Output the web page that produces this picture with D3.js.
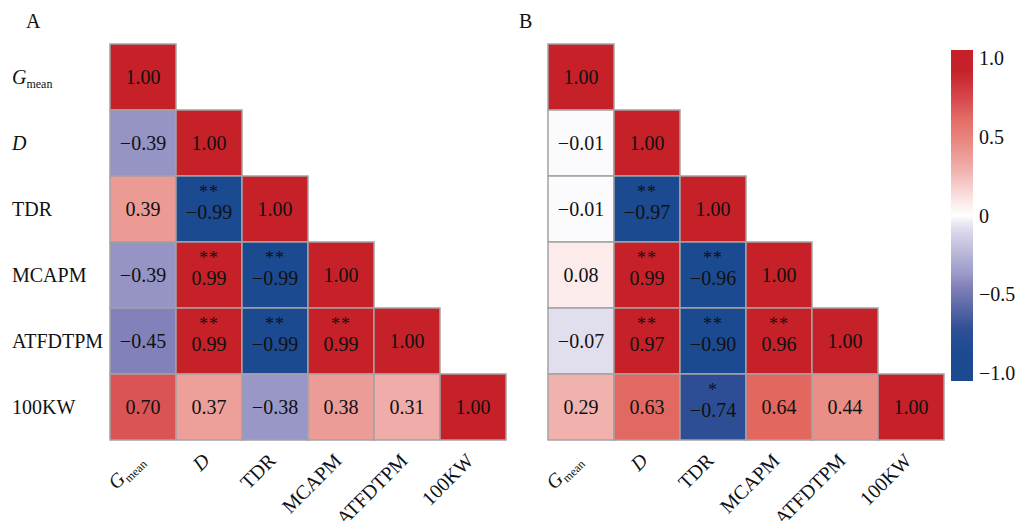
<!DOCTYPE html>
<html>
<head>
<meta charset="utf-8">
<script src="https://cdn.jsdelivr.net/npm/d3@7"></script>
<style>
  body { margin: 0; background: #fff; }
  svg text { font-family: "Liberation Serif", "Times New Roman", serif; fill: #111; }
</style>
</head>
<body>
<div id="chart"></div>
<script>
// variable names (row/column order)
const variables = ['Gmean', 'D', 'TDR', 'MCAPM', 'ATFDTPM', '100KW'];

// lower triangle correlations, panel A
const valuesA = [
  [1.00],
  [-0.39, 1.00],
  [0.39, -0.99, 1.00],
  [-0.39, 0.99, -0.99, 1.00],
  [-0.45, 0.99, -0.99, 0.99, 1.00],
  [0.70, 0.37, -0.38, 0.38, 0.31, 1.00]
];
const starsA = [
  [''],
  ['', ''],
  ['', '**', ''],
  ['', '**', '**', ''],
  ['', '**', '**', '**', ''],
  ['', '', '', '', '', '']
];

// panel B
const valuesB = [
  [1.00],
  [-0.01, 1.00],
  [-0.01, -0.97, 1.00],
  [0.08, 0.99, -0.96, 1.00],
  [-0.07, 0.97, -0.90, 0.96, 1.00],
  [0.29, 0.63, -0.74, 0.64, 0.44, 1.00]
];
const starsB = [
  [''],
  ['', ''],
  ['', '**', ''],
  ['', '**', '**', ''],
  ['', '**', '**', '**', ''],
  ['', '', '*', '', '', '']
];

const legendTicks = [1.0, 0.5, 0, -0.5, -1.0];

const width = 1019, height = 521;
const svg = d3.select('#chart').append('svg')
  .attr('width', width)
  .attr('height', height);

// colour scale, blue - white - red
const color = d3.scaleLinear()
  .domain([-1, -0.88, -0.72, -0.45, -0.38, -0.07, 0, 0.08, 0.3, 0.45, 0.64, 0.72, 0.92, 1])
  .range(['#1b4a90', '#1b4a91', '#2f4f95', '#8281b9', '#9897c7', '#e1dfee', '#ffffff',
          '#fcebeb', '#f0aeaa', '#e98d86', '#e1675f', '#d84d53', '#c62128', '#c62128'])
  .clamp(true);

const fmt = v => (v < 0 ? '\u2212' : '') + Math.abs(v).toFixed(2);
const fs = 20;

function labelText(sel, name, size) {
  if (name === 'Gmean') {
    sel.append('tspan').attr('font-style', 'italic').text('G');
    sel.append('tspan').attr('font-size', size * 0.6).attr('dy', 4).text('mean');
  } else if (name === 'D') {
    sel.attr('font-style', 'italic').text('D');
  } else {
    sel.text(name);
  }
}

function drawPanel(x0, values, stars, letter, letterX, showRowLabels) {
  const x = d3.scaleBand().domain(variables).range([x0, x0 + 396]);
  const y = d3.scaleBand().domain(variables).range([44, 440]);

  const cells = [];
  values.forEach((row, i) => row.forEach((v, j) => {
    cells.push({row: variables[i], col: variables[j], v: v, s: stars[i][j]});
  }));

  const g = svg.append('g');

  g.selectAll('rect.cell')
    .data(cells)
    .enter().append('rect')
    .attr('class', 'cell')
    .attr('x', d => x(d.col))
    .attr('y', d => y(d.row))
    .attr('width', x.bandwidth())
    .attr('height', y.bandwidth())
    .attr('fill', d => color(d.v))
    .attr('stroke', '#a3a3a3')
    .attr('stroke-width', 1.5);

  g.selectAll('text.val')
    .data(cells)
    .enter().append('text')
    .attr('class', 'val')
    .attr('x', d => x(d.col) + x.bandwidth() / 2)
    .attr('y', d => y(d.row) + y.bandwidth() / 2 + (d.s ? 3 : 0))
    .attr('dy', '0.35em')
    .attr('text-anchor', 'middle')
    .attr('font-size', fs)
    .text(d => fmt(d.v));

  g.selectAll('text.star')
    .data(cells.filter(d => d.s))
    .enter().append('text')
    .attr('class', 'star')
    .attr('x', d => x(d.col) + x.bandwidth() / 2)
    .attr('y', d => y(d.row) + y.bandwidth() / 2 - 11)
    .attr('text-anchor', 'middle')
    .attr('font-size', 18)
    .attr('letter-spacing', 1)
    .text(d => d.s);

  if (showRowLabels) {
    variables.forEach(name => {
      const t = g.append('text')
        .attr('x', 12)
        .attr('y', y(name) + y.bandwidth() / 2)
        .attr('dy', '0.35em')
        .attr('font-size', fs);
      labelText(t, name, fs);
    });
  }

  // rotated column labels
  variables.forEach(name => {
    const cx = x(name) + x.bandwidth() / 2 - 8;
    const t = g.append('text')
      .attr('transform', `translate(${cx},${452}) rotate(-45)`)
      .attr('text-anchor', 'end')
      .attr('dy', '0.7em')
      .attr('font-size', fs);
    labelText(t, name, fs);
  });

  svg.append('text')
    .attr('x', letterX)
    .attr('y', 28)
    .attr('font-size', 20)
    .text(letter);
}

drawPanel(110, valuesA, starsA, 'A', 26, true);
drawPanel(548, valuesB, starsB, 'B', 519, false);

// colour bar legend
const barX = 951, barW = 22, barTop = 50, barBottom = 381;
const ly = d3.scaleLinear().domain([-1, 1]).range([373, 58]);

const defs = svg.append('defs');
const grad = defs.append('linearGradient')
  .attr('id', 'cbar')
  .attr('x1', 0).attr('y1', 1).attr('x2', 0).attr('y2', 0);
d3.range(0, 1.0001, 0.02).forEach(t => {
  const v = ly.invert(barBottom - t * (barBottom - barTop));
  grad.append('stop').attr('offset', t).attr('stop-color', color(v));
});

svg.append('rect')
  .attr('x', barX)
  .attr('y', barTop)
  .attr('width', barW)
  .attr('height', barBottom - barTop)
  .attr('fill', 'url(#cbar)');

svg.append('g').selectAll('text')
  .data(legendTicks)
  .enter().append('text')
  .attr('x', 979)
  .attr('y', d => ly(d))
  .attr('dy', '0.35em')
  .attr('font-size', fs)
  .text(d => d === 0 ? '0' : (d < 0 ? '\u2212' : '') + Math.abs(d).toFixed(1));
</script>
</body>
</html>
